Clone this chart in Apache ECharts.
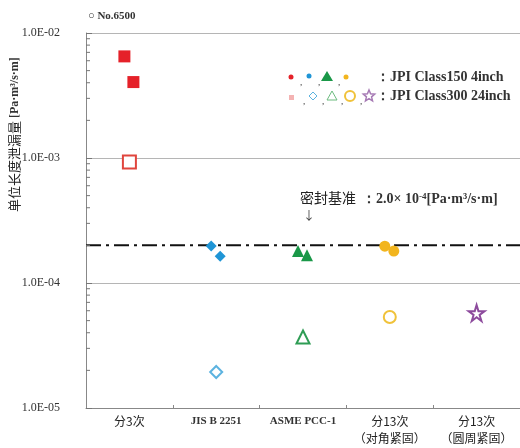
<!DOCTYPE html>
<html lang="zh-CN">
	<head>
		<meta charset="utf-8" />
		<title>Leak rate</title>
	</head>
	<body style="margin:0">
		<div id="main" style="width: 520px;height: 448px"></div>

		<script src="https://cdn.jsdelivr.net/npm/echarts@6/dist/echarts.min.js"></script>
		<script type="text/javascript">
			const categories = ['分3次', 'JIS B 2251', 'ASME PCC-1', '分13次\n（对角紧固）', '分13次\n（圆周紧固）'];
			// JPI Class150 4inch, two specimens per method
			const class150 = [[6.5e-3, 4.05e-3], [1.98e-4, 1.64e-4], [1.8e-4, 1.67e-4], [1.97e-4, 1.8e-4], []];
			// JPI Class300 24inch, one specimen per method
			const class300 = [9.3e-4, 1.94e-5, 3.7e-5, 5.35e-5, 5.75e-5];
			const sealLimit = 2.0e-4;
			const minorTicks = [];
			[-5, -4, -3].forEach(d => {
				for (let m = 2; m <= 9; m++) minorTicks.push(m * Math.pow(10, d));
			});

			const star = 'path://M50,0 L61,35 L98,35 L68,57 L79,92 L50,70 L21,92 L32,57 L2,35 L39,35 Z';
			const colors = ['#e52129', '#1f95d6', '#1a9848', '#f2b51e', '#8d4b9d'];
			const openColors = ['#e0453d', '#5cb3e0', '#2f9d55', '#f0c23a', '#8d4b9d'];
			const shapes = ['rect', 'diamond', 'triangle', 'circle', star];
			const sizes = [12, 11, 12, 11, 15];
			const offsets = [[-5, 0], [4, 0]];

			const series = [];
			// sealing criterion line, dash-dot across the whole plot
			series.push({
				type: 'custom',
				data: [sealLimit],
				silent: true,
				z: 2,
				renderItem: (params, api) => {
					const y = api.coord([0, api.value(0)])[1];
					const cs = params.coordSys;
					return {
						type: 'line',
						shape: { x1: cs.x, y1: y, x2: cs.x + cs.width, y2: y },
						style: { stroke: '#111', lineWidth: 2, lineDash: [15, 5, 3, 5] },
					};
				},
				encode: { y: 0 },
			});
			class150.forEach((vals, i) => {
				if (!vals.length) return;
				series.push({
					type: 'scatter',
					symbol: shapes[i],
					symbolSize: sizes[i],
					itemStyle: { color: colors[i], opacity: 1 },
					data: vals.map((v, k) => ({ value: [i, v], symbolOffset: offsets[k] })),
					z: 3,
				});
			});
			class300.forEach((v, i) => {
				series.push({
					type: 'scatter',
					symbol: shapes[i],
					symbolSize: sizes[i] + 1,
					itemStyle: { color: '#fff', borderColor: openColors[i], borderWidth: 2, opacity: 1 },
					data: [[i, v]],
					z: 3,
				});
			});
			series.push({
				type: 'custom',
				data: minorTicks,
				silent: true,
				renderItem: (params, api) => {
					const y = api.coord([0, api.value(0)])[1];
					const x = params.coordSys.x;
					return { type: 'line', shape: { x1: x, y1: y, x2: x + 4, y2: y }, style: { stroke: '#777', lineWidth: 1 } };
				},
				encode: { y: 0 },
			});

			// small star outline for the legend
			const starPts = (cx, cy, r) => {
				const pts = [];
				for (let k = 0; k < 10; k++) {
					const a = -Math.PI / 2 + k * Math.PI / 5;
					const rr = k % 2 ? r * 0.45 : r;
					pts.push([cx + rr * Math.cos(a), cy + rr * Math.sin(a)]);
				}
				return pts;
			};

			const serif = 'Liberation Serif';
			const cjk = 'Noto Sans CJK SC';
			const legendIcons = [
				{ type: 'circle', shape: { cx: 291, cy: 77, r: 2.5 }, style: { fill: colors[0] } },
				{ type: 'circle', shape: { cx: 309, cy: 76, r: 2.5 }, style: { fill: colors[1] } },
				{ type: 'polygon', shape: { points: [[327, 71], [333, 81], [321, 81]] }, style: { fill: colors[2] } },
				{ type: 'circle', shape: { cx: 346, cy: 77, r: 2.5 }, style: { fill: colors[3] } },
				{ type: 'rect', shape: { x: 289, y: 95, width: 5, height: 5 }, style: { fill: '#f4b3b3' } },
				{ type: 'polygon', shape: { points: [[313, 92], [317, 96], [313, 100], [309, 96]] }, style: { fill: 'none', stroke: openColors[1], lineWidth: 1 } },
				{ type: 'polygon', shape: { points: [[332, 91], [337, 100], [327, 100]] }, style: { fill: 'none', stroke: '#6cbb7f', lineWidth: 1 } },
				{ type: 'circle', shape: { cx: 350, cy: 96, r: 5 }, style: { fill: 'none', stroke: openColors[3], lineWidth: 2 } },
				{ type: 'polygon', shape: { points: starPts(369, 96, 6) }, style: { fill: 'none', stroke: '#a77bb5', lineWidth: 1.5 } },
			];
			const commas = [300, 318, 338, 303, 322, 341, 360].map((x, k) => ({
				type: 'text', x: x, y: k < 3 ? 78 : 97,
				style: { text: ',', font: '9px ' + serif, fill: '#333' },
			}));

			const myChart = echarts.init(document.getElementById('main'));
			myChart.setOption({
				animation: false,
				grid: { left: 86, right: 0, top: 33, bottom: 40, outerBoundsMode: 'none', containLabel: false },
				xAxis: {
					type: 'category',
					data: categories,
					axisLine: { lineStyle: { color: '#888', width: 1 } },
					axisTick: { show: true, inside: true, length: 3, lineStyle: { color: '#888' } },
					axisLabel: {
						interval: 0,
						color: '#222', fontSize: 12, margin: 5, lineHeight: 17,
						fontFamily: cjk,
						formatter: v => /^[A-Z]/.test(v) ? '{s|' + v + '}' : v,
						rich: { s: { fontFamily: serif, fontWeight: 'bold', fontSize: 11, color: '#333' } },
					},
				},
				yAxis: {
					type: 'log',
					logBase: 10,
					min: 1e-5,
					max: 1e-2,
					axisLine: { show: true, lineStyle: { color: '#888' } },
					axisTick: { show: true, inside: true, length: 6, lineStyle: { color: '#777' } },
					splitLine: { show: true, lineStyle: { color: '#b5b5b5', width: 1 } },
					axisLabel: {
						color: '#333', fontSize: 12, fontFamily: serif, margin: 26,
						formatter: v => {
							const e = Math.round(Math.log10(v));
							return '1.0E-' + String(-e).padStart(2, '0');
						},
					},
				},
				series,
				graphic: [
					{ type: 'text', x: 88, y: 11, style: { text: '○ No.6500', font: 'bold 11px ' + serif, fill: '#333' } },
					{ type: 'text', x: 8, y: 212, rotation: Math.PI / 2, style: {
						text: '单位长度泄漏量 {s|[Pa·m³/s·m]}', font: '13px ' + cjk, fill: '#222',
						rich: { s: { fontFamily: serif, fontWeight: 'bold', fontSize: 12, fill: '#333' } },
					} },
					...legendIcons,
					...commas,
					{ type: 'text', x: 376, y: 70, style: { text: '：JPI Class150 4inch', font: 'bold 14px ' + serif, fill: '#333' } },
					{ type: 'text', x: 376, y: 89, style: { text: '：JPI Class300 24inch', font: 'bold 14px ' + serif, fill: '#333' } },
					{ type: 'text', x: 300, y: 191, style: { text: '密封基准', font: '14px ' + cjk, fill: '#222' } },
					{ type: 'text', x: 362, y: 192, style: {
						text: '：2.0× 10{sup|-4}[Pa·m³/s·m]', font: 'bold 14px ' + serif, fill: '#333',
						rich: { sup: { fontSize: 9, fontWeight: 'bold', fontFamily: serif, verticalAlign: 'top', padding: [0, 0, 6, 0] } },
					} },
					{ type: 'text', x: 303, y: 209, style: { text: '↓', font: '12px ' + cjk, fill: '#444' } },
				],
			});
		</script>
	</body>
</html>
